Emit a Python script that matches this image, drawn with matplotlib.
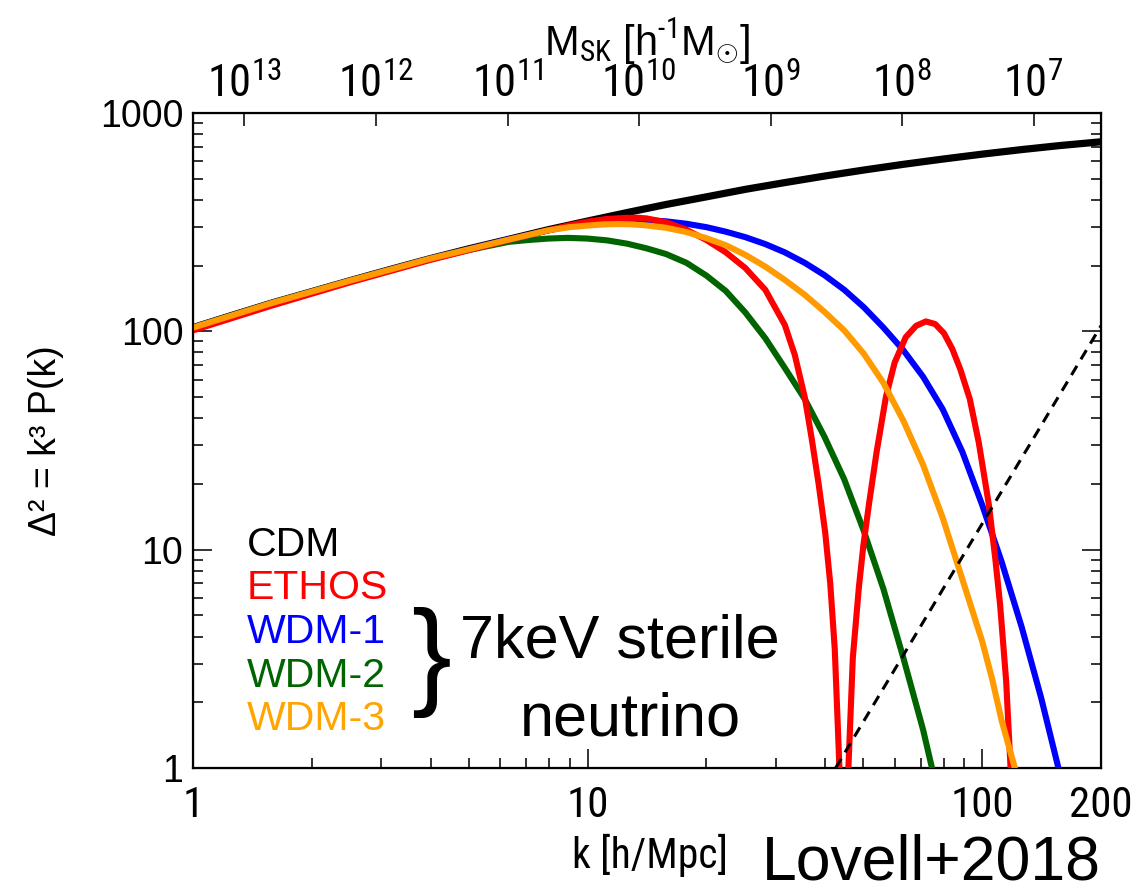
import matplotlib
matplotlib.use("Agg")
import matplotlib.pyplot as plt
import numpy as np
from matplotlib import font_manager
from matplotlib.ticker import FixedLocator, NullLocator, FuncFormatter, LogLocator

# fonts: condensed face for the k / mass axes, regular face elsewhere
_names = {f.name for f in font_manager.fontManager.ttflist}
REG = "Liberation Sans"
NARROW = next((n for n in ["Liberation Sans Narrow", "Roboto Condensed", "Archivo Narrow", "PT Sans Narrow"]
               if n in _names), REG)

plt.rcParams["font.family"] = [REG, "DejaVu Sans"]
plt.rcParams["mathtext.fontset"] = "custom"
plt.rcParams["mathtext.rm"] = NARROW
plt.rcParams["mathtext.it"] = NARROW + ":italic"
plt.rcParams["mathtext.bf"] = NARROW + ":bold"

# dimensionless power spectrum Delta^2(k), k in h/Mpc
k_cdm = [1, 1.26, 1.58, 2, 2.51, 3.16, 3.98, 5.01, 6.31, 7.94, 10, 12.6, 15.8, 20, 25.1, 31.6, 39.8,
         50.1, 63.1, 79.4, 100, 126, 158, 200]
d_cdm = [104, 118.6, 134.6, 152, 171, 192, 215, 239, 264, 292, 320, 350, 381, 413, 447, 480, 514,
         548, 582, 615, 648, 680, 710, 738]

k_ethos = [1, 1.58, 2.51, 3.98, 6.31, 7.94, 8.91, 10, 11.2, 12.6, 13.5, 14.1, 15.8, 17.8, 20, 22.4, 25.1,
           28.2, 31.6, 33.5, 35.5, 37, 38.5, 40, 41.2, 42.3, 43.3, 44.5, 45.8, 47, 48.7, 50, 51.7, 54, 57,
           60, 64, 68, 72, 76, 80, 84, 88, 93, 98, 104, 108, 111, 115, 118]
d_ethos = [101, 131, 168, 212, 262, 290, 305, 318, 327, 331, 331, 329, 316, 292, 262, 230, 195,
           155, 107, 78, 50, 32, 20, 12, 7, 3.5, 1.2, 0.3, 1.0, 3.2, 6.75, 10.5, 16.4, 28, 50,
           72, 94, 106, 111, 108, 98, 83, 67, 49, 31, 16, 9, 5.6, 2.5, 1.0]

k_wdm1 = [1, 1.58, 2.51, 3.98, 6.31, 7.94, 8.91, 10, 11.2, 12.6, 14.1, 15.8, 17.8, 20, 22.4, 25.1, 28.2,
          31.6, 35.5, 39.8, 44.7, 50.1, 56.2, 63.1, 70.8, 79.4, 89.1, 100, 112, 126, 141, 156]
d_wdm1 = [104, 134.6, 171, 215, 264, 290, 302, 313, 320, 323, 323, 319, 311, 300, 286, 270, 251,
          230, 206, 181, 155, 129, 104, 82, 62, 44, 28, 16, 8.8, 4.4, 2.1, 1.0]

k_wdm2 = [1, 1.58, 2.51, 3.98, 5.01, 6.31, 7.08, 7.94, 8.91, 10, 11.2, 12.6, 14.1, 15.8, 17.8, 20, 22.4,
          25.1, 28.2, 31.6, 35.5, 39.8, 44.7, 50.1, 56.2, 63.1, 70.8, 74.6]
d_wdm2 = [104, 134.6, 171, 214, 236, 257, 262, 266, 268, 266, 261, 252, 240, 226, 206, 180, 153,
          122, 93, 68, 49, 33, 21, 12.2, 6.6, 3.2, 1.5, 1.0]

k_wdm3 = [1, 1.58, 2.51, 3.98, 6.31, 7.94, 9, 10, 11, 12, 13, 14, 15.8, 17.8, 20, 22.4, 25.1, 28.2, 31.6,
          35.5, 39.8, 44.7, 50.1, 56.2, 63.1, 70.8, 79.4, 89.1, 100, 106, 112, 121]
d_wdm3 = [104, 134.6, 171, 215, 263, 290, 300, 305, 309, 310, 309, 306, 298, 285, 267, 248, 224, 198, 172,
          147, 123, 101, 79, 58, 39, 24.5, 14, 7.3, 3.8, 2.55, 1.65, 1.0]

# shot-noise level
k_noise = [42.5, 200]
d_noise = [1, 106]

# halo mass for the top axis, M = M_PIVOT * (K_PIVOT / k)^3
M_PIVOT = 1e10
K_PIVOT = 13.5
mass_ticks = [1e13, 1e12, 1e11, 1e10, 1e9, 1e8, 1e7]

models = ["CDM", "ETHOS", "WDM-1", "WDM-2", "WDM-3"]
colors = ["black", "#ff0000", "#0000ff", "#006400", "#ffa500"]
line_colors = ["black", "#ff0000", "#0000ff", "#006400", "#ff9a00"]

fig = plt.figure(figsize=(11.48, 8.92), dpi=100)
ax = fig.add_axes([193 / 1148, 1 - 768 / 892, 908 / 1148, 655 / 892])

ax.plot(k_cdm, d_cdm, color=line_colors[0], lw=5.2, solid_capstyle="butt", zorder=2)
ax.plot(k_wdm1, d_wdm1, color=line_colors[2], lw=4.4, solid_joinstyle="round", zorder=3)
ax.plot(k_wdm2, d_wdm2, color=line_colors[3], lw=4.4, solid_joinstyle="round", zorder=3)
ax.plot(k_ethos, d_ethos, color=line_colors[1], lw=4.4, solid_joinstyle="round", zorder=4)
ax.plot(k_wdm3, d_wdm3, color=line_colors[4], lw=4.4, solid_joinstyle="round", zorder=5)
ax.plot(k_noise, d_noise, color="black", lw=2.2, ls=(0, (3.5, 2.5)), zorder=6)

ax.set_xscale("log")
ax.set_yscale("log")
ax.set_xlim(1, 200)
ax.set_ylim(1, 1000)

for s in ax.spines.values():
    s.set_linewidth(1.6)

ax.set_xticks([1, 10, 100, 200])
ax.xaxis.set_major_formatter(FuncFormatter(lambda v, p: f"{v:g}"))
ax.xaxis.set_minor_locator(LogLocator(base=10, subs=np.arange(2, 10)))
ax.yaxis.set_major_locator(FixedLocator([1, 10, 100, 1000]))
ax.yaxis.set_major_formatter(FuncFormatter(lambda v, p: f"{v:g}"))
ax.yaxis.set_minor_locator(LogLocator(base=10, subs=np.arange(2, 10)))

ax.tick_params(which="both", direction="in", top=False, right=True, width=1.4, color="#333333")
ax.tick_params(which="major", length=13.5)
ax.tick_params(which="minor", length=7)
ax.tick_params(axis="x", which="major", pad=12, labelsize=31, labelfontfamily=NARROW)
ax.tick_params(axis="y", which="major", pad=7, labelsize=27)

# top axis in halo mass
ax2 = ax.twiny()
ax2.set_xscale("log")
ax2.set_xlim(ax.get_xlim())
k_at_mass = [K_PIVOT * (M_PIVOT / m) ** (1 / 3) for m in mass_ticks]
ax2.xaxis.set_major_locator(FixedLocator(k_at_mass))
ax2.xaxis.set_minor_locator(NullLocator())
ax2.set_xticklabels([r"$10^{%d}$" % round(np.log10(m)) for m in mass_ticks])
ax2.tick_params(axis="x", direction="in", length=9, width=1.4, color="#333333", pad=5, labelsize=32)
ax2.set_xlabel(r"M$_{\rm SK}$ [h$^{\rm {\text{-}}1}$M$_{{\odot}}$]", fontsize=30, labelpad=6)

ax.set_ylabel("Δ² = k³ P(k)", fontsize=27, labelpad=26)
fig.text(650 / 1148, 1 - 855 / 892, "k [h/Mpc]", family=NARROW, fontsize=30, ha="center", va="center")
fig.text(762 / 1148, 1 - 880 / 892, "Lovell+2018", fontsize=45, ha="left", va="baseline")

# model key
key_y = [545, 588, 632, 676, 719]
for name, c, y in zip(models, colors, key_y):
    ax.text(247 / 1148, 1 - y / 892, name, color=c, fontsize=29.5, ha="left", va="center",
            transform=fig.transFigure)

fig.text(431 / 1148, 1 - 663 / 892, "}", fontsize=86, ha="center", va="center")
fig.text(620 / 1148, 1 - 657 / 892, "7keV sterile", fontsize=44, ha="center", va="baseline")
fig.text(630 / 1148, 1 - 735 / 892, "neutrino", fontsize=44, ha="center", va="baseline")

fig.savefig("out.png", dpi=100)
